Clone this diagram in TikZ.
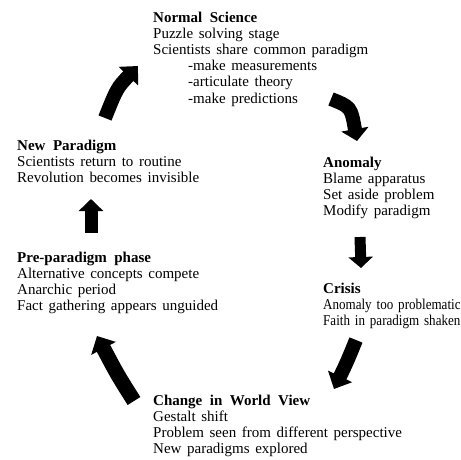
\documentclass[tikz,border=0pt]{standalone}
\usepackage{fontspec}
\usepackage{graphicx}
\setmainfont{Liberation Serif}[WordSpace=1.5, BoldFeatures={WordSpace=2}]
\usetikzlibrary{arrows.meta}
\begin{document}
\begin{tikzpicture}[x=1pt,y=-1pt,
  txt/.style={anchor=base west, inner sep=0pt, align=left, font=\fontsize{15}{16.1}\selectfont},
  blk/.style={line width=#1, line cap=butt},
  blk/.default=13pt,
]
\useasboundingbox[fill=white] (0,0) rectangle (461,460);

% nodes are placed by the baseline of their last line
\node[txt] (ns) at (153,103) {\textbf{Normal Science}\\Puzzle solving stage\\Scientists share common paradigm\\\hspace*{35pt}-make measurements\\\hspace*{35pt}-articulate theory\\\hspace*{35pt}-make predictions};
\node[txt] (np) at (17,182.7) {\textbf{New Paradigm}\\Scientists return to routine\\Revolution becomes invisible};
\node[txt] (an) at (323,215.3) {\textbf{Anomaly}\\Blame apparatus\\Set aside problem\\Modify paradigm};
\node[txt] (pp) at (17,310.3) {\textbf{Pre-paradigm phase}\\Alternative concepts compete\\Anarchic period\\Fact gathering appears unguided};
\node[txt] (cr) at (323,325.7) {\textbf{Crisis}\\\scalebox{0.87}[1]{Anomaly too problematic}\\\scalebox{0.87}[1]{Faith in paradigm shaken}};
\node[txt] (cw) at (153,453.3) {\textbf{Change in World View}\\Gestalt shift\\Problem seen from different perspective\\New paradigms explored};

% arrow end points
\coordinate (a1s) at (105,118); \coordinate (a1e) at (138,66);
\coordinate (a2s) at (331,99);  \coordinate (a2e) at (357,141);
\coordinate (a3s) at (360,237); \coordinate (a3e) at (361,268);
\coordinate (a4s) at (356,340); \coordinate (a4e) at (334,389);
\coordinate (a5s) at (134,401); \coordinate (a5e) at (97,336);
\coordinate (a6s) at (91,233);  \coordinate (a6e) at (91,199);

\draw[blk=14pt, -{Triangle[width=26pt,length=14pt]}] (a1s) .. controls (117,88) .. (a1e);
\draw[blk=14pt, -{Triangle[width=27pt,length=12pt]}] (a2s) .. controls (351,107) .. (a2e);
\draw[blk=11pt, -{Triangle[width=24pt,length=11pt]}] (a3s) -- (a3e);
\draw[blk=14pt, -{Triangle[width=26pt,length=14pt]}] (a4s) .. controls (347,362) .. (a4e);
\draw[blk=15pt, -{Triangle[width=27pt,length=14pt]}] (a5s) .. controls (117,374) .. (a5e);
\draw[blk=13pt, -{Triangle[width=24pt,length=12pt]}] (a6s) -- (a6e);
\end{tikzpicture}
\end{document}
